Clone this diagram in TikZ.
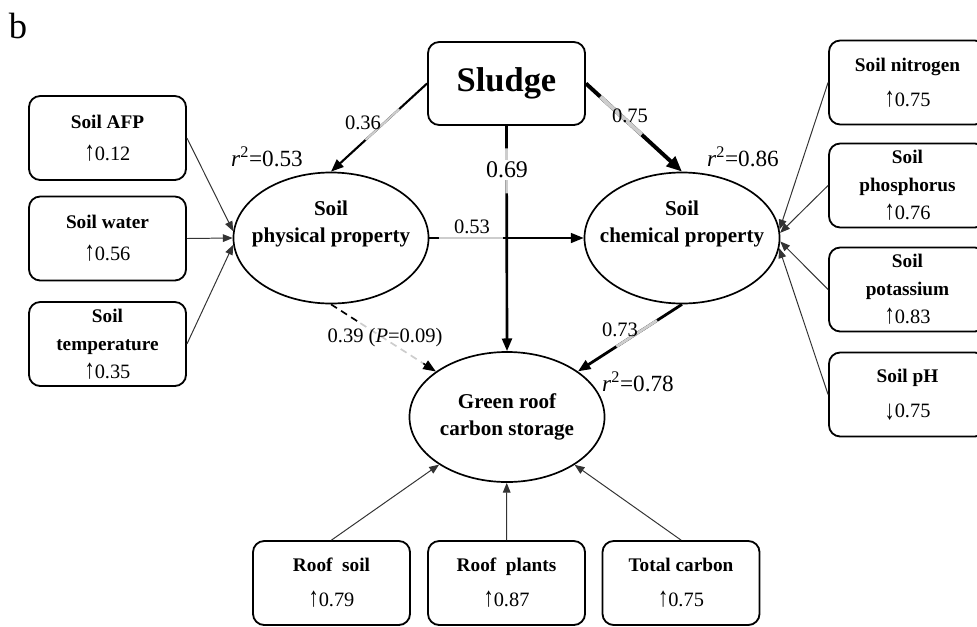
\documentclass[tikz,border=0pt]{standalone}
\usepackage{fontspec}
\setmainfont{Liberation Serif}
\usepackage{xcolor}
\usepackage{graphicx}
\usepackage{tikz}
\usetikzlibrary{shapes.geometric, arrows.meta}
\definecolor{pathgray}{RGB}{205, 205, 205}
\newcommand{\upval}[1]{{\mdseries\fontsize{14.5}{20}\selectfont\scalebox{1}[1.35]{↑}#1}}
\newcommand{\downval}[1]{{\mdseries\fontsize{14.5}{20}\selectfont\raisebox{-0.2ex}{\scalebox{1}[1.35]{↓}}#1}}

\begin{document}
\begin{tikzpicture}[
    x=0.025cm, y=-0.025cm,
    obs/.style={draw, rounded corners=8pt, line width=1.3pt, minimum width=3.925cm, minimum height=2.1cm, align=center, font=\fontsize{13.7}{20}\selectfont\bfseries},
    latent/.style={draw, ellipse, line width=1.2pt, minimum width=4.875cm, minimum height=3.275cm, inner sep=0pt},
    lattext/.style={align=center, font=\fontsize{15}{19.5}\selectfont\bfseries},
    coef/.style={-{Triangle[length=9pt, width=7pt]}},
    gseg/.style={draw=pathgray},
    dashline/.style={dash pattern=on 5pt off 3.5pt, line width=1.2pt},
    ind/.style={-{Triangle[length=7pt, width=5.5pt]}, line width=0.7pt, draw=black!80},
    coeflab/.style={font=\fontsize{14.6}{16}\selectfont},
    rsq/.style={font=\fontsize{16.5}{18}\selectfont}
]
    \useasboundingbox (0,0) rectangle (977,626);
    \clip (0,0) rectangle (977,626);

    % Panel letter
    \node[font=\fontsize{26}{28}\selectfont] (panel) at (18,26) {b};

    % Treatment
    \node[obs, minimum height=2.075cm, font=\fontsize{24.5}{28}\selectfont\bfseries] (sludge) at (506.5,83.5) {Sludge};

    % Latent variables
    \node[latent, label={[lattext, yshift=10pt]center:Soil\\physical property}] (phys) at (331,238) {};
    \node[latent, label={[lattext, yshift=10pt]center:Soil\\chemical property}] (chem) at (682,238) {};
    \node[latent, minimum height=3.25cm, label={[lattext]center:Green roof\\carbon storage}] (green) at (507,417) {};

    % Indicators of physical property
    \node[obs] (afp) at (107.5,138) {Soil AFP\\[3pt]\upval{0.12}};
    \node[obs] (water) at (107.5,238.5) {Soil water\\[3pt]\upval{0.56}};
    \node[obs] (temp) at (107.5,344) {Soil\\temperature\\\upval{0.35}};

    % Indicators of chemical property
    \node[obs] (nitro) at (907.5,82.5) {Soil nitrogen\\[5pt]\upval{0.75}};
    \node[obs] (phos) at (907.5,185.5) {Soil\\phosphorus\\\upval{0.76}};
    \node[obs] (pota) at (907.5,289.5) {Soil\\potassium\\\upval{0.83}};
    \node[obs] (ph) at (907.5,394.5) {Soil pH\\[5pt]\downval{0.75}};

    % Indicators of carbon storage
    \node[obs] (rsoil) at (331.5,583) {Roof~ soil\\[5pt]\upval{0.79}};
    \node[obs] (rplant) at (506.5,583) {Roof~ plants\\[5pt]\upval{0.87}};
    \node[obs] (tcarb) at (681,583) {Total carbon\\[5pt]\upval{0.75}};

    % Indicator arrows
    \draw[ind] (afp.east) -- (phys.176);
    \draw[ind] (water.east) -- (phys.west);
    \draw[ind] (temp.east) -- (phys.184);
    \draw[ind] (nitro.west) -- (chem.5);
    \draw[ind] (phos.west) -- (chem.3);
    \draw[ind] (pota.west) -- (chem.358);
    \draw[ind] (ph.west) -- (chem.354);
    \draw[ind] (rsoil.north) -- (green);
    \draw[ind] (rplant.north) -- (green);
    \draw[ind] (tcarb.north) -- (green);

    % Path coefficients
    \draw[coef, line width=1.5pt] (sludge.west) -- coordinate[pos=0.29] (sp1) coordinate[pos=0.64] (sp2) (phys.north);
    \draw[gseg, line width=1.5pt] (sp1) -- (sp2);
    \node[coeflab] (lab36) at (363,123) {0.36};

    \draw[coef, line width=1.9pt] (sludge.south) -- coordinate[pos=0.1] (sg1) coordinate[pos=0.3] (sg2) (green.north);
    \draw[gseg, line width=1.9pt] (sg1) -- (sg2);
    \node[coeflab, font=\fontsize{17}{18}\selectfont, fill=white, inner sep=1pt] (lab69) at (507,170) {0.69};

    \draw[-{Triangle[length=11pt, width=9pt]}, line width=2.8pt] (sludge.east) -- coordinate[pos=0.15] (sc1) coordinate[pos=0.58] (sc2) (chem.north);
    \draw[gseg, line width=2.8pt] (sc1) -- (sc2);
    \node[coeflab] (lab75) at (630,116) {0.75};

    \draw[coef, line width=1.2pt] (phys.east) -- coordinate[pos=0.06] (pc1) coordinate[pos=0.48] (pc2) (chem.west);
    \draw[gseg, line width=1.2pt] (pc1) -- (pc2);
    \node[coeflab] (lab53) at (472,227) {0.53};

    \draw[coef, line width=2pt] (chem.south) -- coordinate[pos=0.24] (cg1) coordinate[pos=0.63] (cg2) (green);
    \draw[gseg, line width=2pt] (cg1) -- (cg2);
    \node[coeflab] (lab73) at (620,330) {0.73};

    \path (phys.south) -- coordinate[pos=0] (pg0) coordinate[pos=0.28] (pg1) coordinate[pos=0.88] (pg2) coordinate[pos=1] (pg3) (green);
    \draw[dashline] (pg0) -- (pg1);
    \draw[dashline, draw=pathgray] (pg1) -- (pg2);
    \draw[dashline, coef, solid] (pg2) -- (pg3);
    \node[coeflab] (lab39) at (385,338) {0.39 (\textit{P}=0.09)};

    % Explained variance
    \node[rsq] (rphys) at (267,157) {\textit{r}\textsuperscript{2}=0.53};
    \node[rsq] (rchem) at (743,157) {\textit{r}\textsuperscript{2}=0.86};
    \node[rsq] (rgreen) at (638,382) {\textit{r}\textsuperscript{2}=0.78};

\end{tikzpicture}
\end{document}
